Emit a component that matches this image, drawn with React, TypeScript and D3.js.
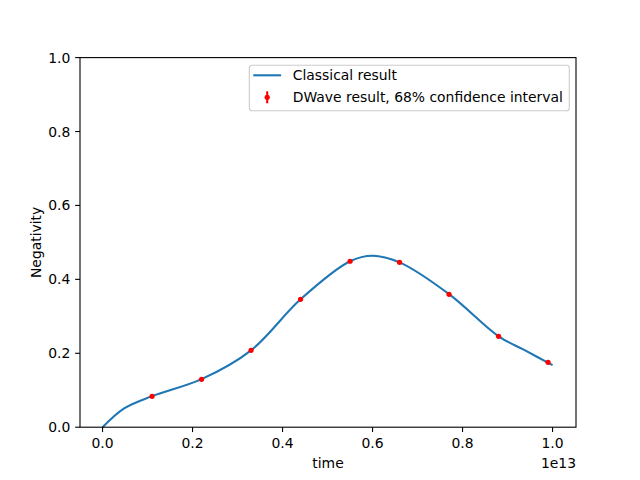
import * as d3 from "d3";

// Classical result (time in units of 1e13)
const curveT = [0, 0.048, 0.11, 0.22, 0.33, 0.44, 0.55, 0.6, 0.66, 0.77, 0.88, 0.937, 1.0];
const curveV = [0, 0.051, 0.084, 0.13, 0.208, 0.346, 0.449, 0.464, 0.446, 0.36, 0.246, 0.209, 0.168];

// DWave points
const dwT = [0.11, 0.22, 0.33, 0.44, 0.55, 0.66, 0.77, 0.88, 0.99];
const dwV = [0.0836, 0.1296, 0.208, 0.346, 0.449, 0.446, 0.3596, 0.246, 0.1756];
const dwErr = [0.003, 0.003, 0.003, 0.003, 0.003, 0.003, 0.003, 0.003, 0.003];

const xTicks = [0, 0.2, 0.4, 0.6, 0.8, 1.0];
const yTicks = [0, 0.2, 0.4, 0.6, 0.8, 1.0];

const W = 640, H = 480;
const margin = {left: 80, right: 576, top: 57.6, bottom: 427.2};
const FONT = "DejaVu Sans, sans-serif";
const FS = 13.9;
const BLUE = "#1f77b4";

export default function App() {
    const x = d3.scaleLinear().domain([-0.0501, 1.0521]).range([margin.left, margin.right]);
    const y = d3.scaleLinear().domain([0, 1]).range([margin.bottom, margin.top]);

    const line = d3.line<number>()
        .x((_, i) => x(curveT[i]))
        .y(d => y(d))
        .curve(d3.curveCatmullRom.alpha(0.5));

    const tick = 4.86;

    return (
        <svg width={W} height={H} style={{position: "absolute", left: 0, top: 0, background: "#fff"}}
             fontFamily={FONT} fontSize={FS}>
            <rect x={0} y={0} width={W} height={H} fill="#fff"/>

            {/* curve */}
            <path d={line(curveV) || ""} fill="none" stroke={BLUE} strokeWidth={2.08}/>

            {/* error bars + markers */}
            {dwT.map((t, i) => (
                <g key={i}>
                    <line x1={x(t)} x2={x(t)} y1={y(dwV[i] - dwErr[i])} y2={y(dwV[i] + dwErr[i])}
                          stroke="red" strokeWidth={2.08}/>
                    <circle cx={x(t)} cy={y(dwV[i])} r={2.6} fill="red"/>
                </g>
            ))}

            {/* axes frame */}
            <rect x={margin.left} y={margin.top} width={margin.right - margin.left}
                  height={margin.bottom - margin.top} fill="none" stroke="#000" strokeWidth={1.1}/>

            {/* x ticks */}
            {xTicks.map(t => (
                <g key={t}>
                    <line x1={x(t)} x2={x(t)} y1={margin.bottom} y2={margin.bottom + tick} stroke="#000" strokeWidth={1.1}/>
                    <text x={x(t)} y={margin.bottom + tick + 4.9} dy="0.76em" textAnchor="middle">{t.toFixed(1)}</text>
                </g>
            ))}
            {/* y ticks */}
            {yTicks.map(t => (
                <g key={t}>
                    <line x1={margin.left - tick} x2={margin.left} y1={y(t)} y2={y(t)} stroke="#000" strokeWidth={1.1}/>
                    <text x={margin.left - tick - 4.9} y={y(t)} dy="0.36em" textAnchor="end">{t.toFixed(1)}</text>
                </g>
            ))}

            <text x={(margin.left + margin.right) / 2} y={468} textAnchor="middle">time</text>
            <text x={margin.right} y={468} textAnchor="end">1e13</text>
            <text transform={`translate(41,${(margin.top + margin.bottom) / 2}) rotate(-90)`} textAnchor="middle">Negativity</text>

            {/* legend */}
            <g>
                <rect x={249.3} y={65.3} width={320} height={45.4} rx={2.8} fill="#fff" fillOpacity={0.8}
                      stroke="#cccccc" strokeWidth={1.1}/>
                <line x1={253.3} x2={281.1} y1={75.3} y2={75.3} stroke={BLUE} strokeWidth={2.08}/>
                <text x={292.8} y={75.3} dy="0.36em">Classical result</text>
                <line x1={267.2} x2={267.2} y1={91.3} y2={103.3} stroke="red" strokeWidth={2.08}/>
                <circle cx={267.2} cy={97.3} r={2.6} fill="red"/>
                <text x={292.8} y={97.3} dy="0.36em">DWave result, 68% confidence interval</text>
            </g>
        </svg>
    );
}
